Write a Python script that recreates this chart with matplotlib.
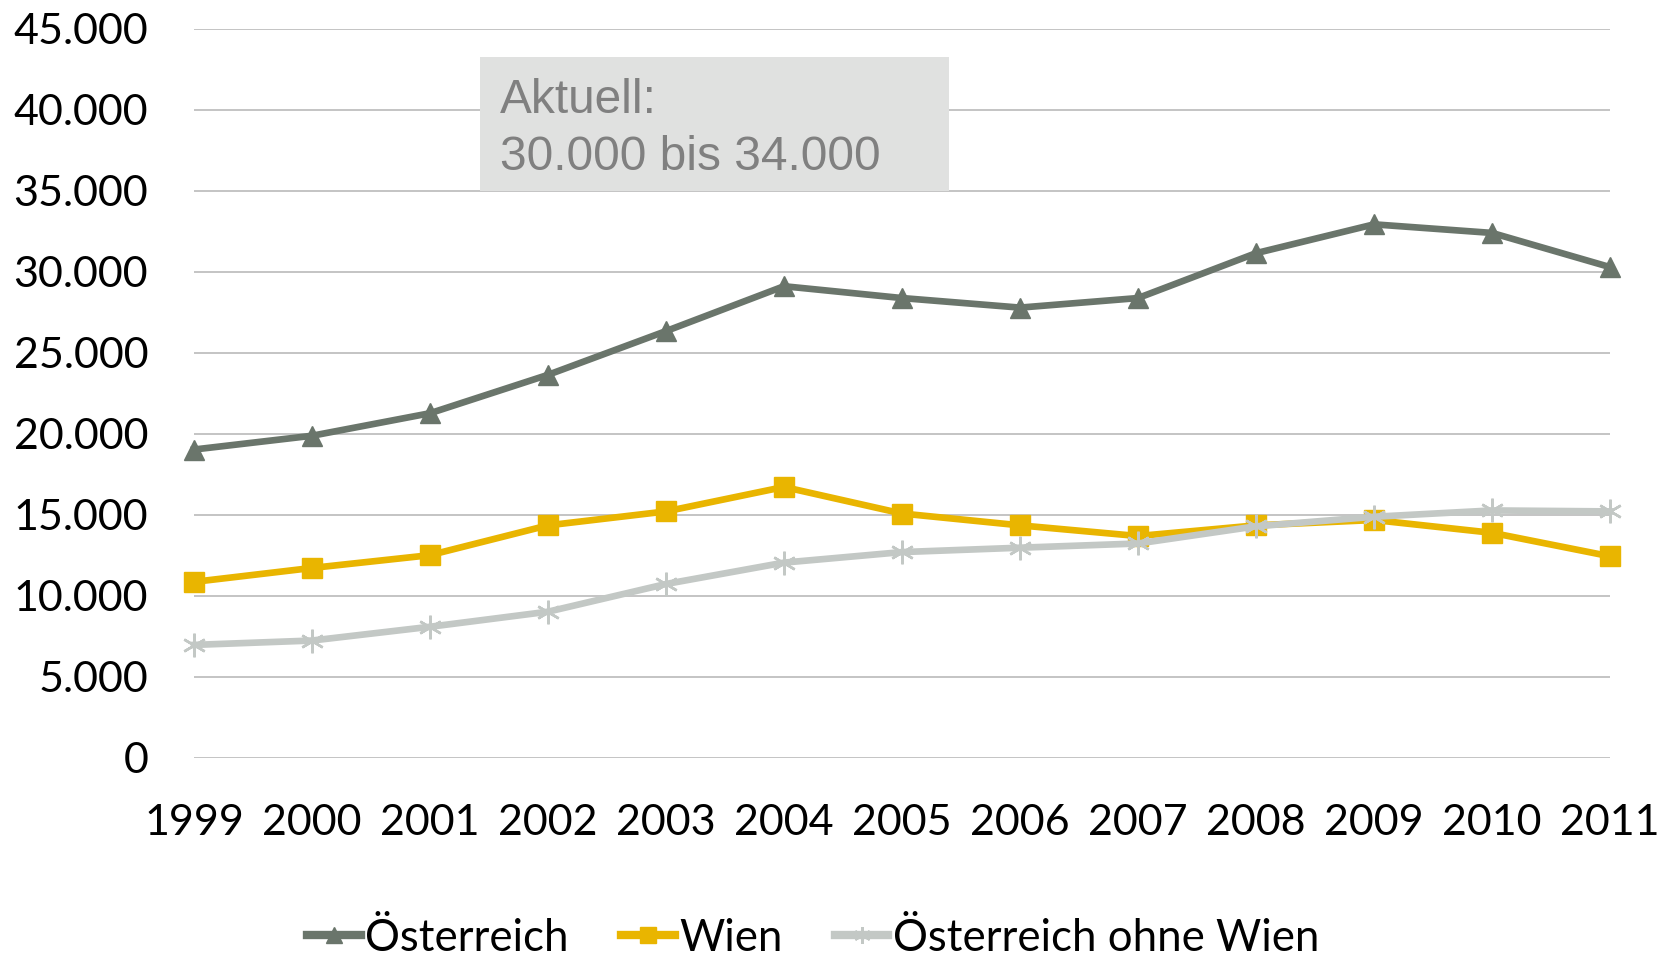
import numpy as np
import matplotlib.pyplot as plt
from matplotlib.patches import Rectangle
from matplotlib.ticker import FuncFormatter

# Daten
jahre = [1999, 2000, 2001, 2002, 2003, 2004, 2005, 2006, 2007, 2008, 2009, 2010, 2011]
oesterreich = [19040, 19890, 21280, 23650, 26350, 29120, 28390, 27800, 28390, 31160, 32940, 32410, 30300]
wien = [10870, 11730, 12520, 14360, 15220, 16730, 15090, 14360, 13700, 14360, 14690, 13900, 12450]
ohne_wien = [6980, 7250, 8100, 9030, 10740, 12060, 12710, 12980, 13240, 14300, 14890, 15280, 15220]

plt.rcParams['font.family'] = ['Lato', 'DejaVu Sans']

fig = plt.figure(figsize=(16.75, 9.59), dpi=100)
ax = fig.add_axes([0.1158, 0.2096, 0.8454, 0.7602])

ax.plot(jahre, oesterreich, color='#6A756B', lw=4.8, marker='^', ms=15,
        label='Österreich', clip_on=False, zorder=3)
ax.plot(jahre, wien, color='#E9B500', lw=4.8, marker='s', ms=14,
        label='Wien', clip_on=False, zorder=4)
ax.plot(jahre, ohne_wien, color='#C3C8C5', lw=4.8, marker=(6, 2, 0), ms=17,
        mew=1.8, mec='#C3C8C5', label='Österreich ohne Wien', clip_on=False, zorder=5)

ax.set_xlim(1999, 2011)
ax.set_ylim(0, 45000)
ax.set_yticks(np.arange(0, 45001, 5000))
ax.set_xticks(jahre)
ax.yaxis.set_major_formatter(FuncFormatter(lambda v, p: f'{int(v):,}'.replace(',', '.')))
ax.grid(axis='y', color='#BFBFBF', lw=1.3)
ax.set_axisbelow(True)
for s in ax.spines.values():
    s.set_visible(False)
ax.tick_params(length=0, labelsize=31)
ax.tick_params(axis='y', pad=33)
ax.tick_params(axis='x', pad=33)

# Hinweisbox
ax.add_patch(Rectangle((2001.424, 34970), 3.974, 8326, fc='#E0E1E0', ec='none',
                       zorder=2, clip_on=False))
ax.text(2001.59, 39800, 'Aktuell:', fontsize=34.4, color='#808080',
        family='Liberation Sans', va='baseline', ha='left', zorder=6)
ax.text(2001.59, 36265, '30.000 bis 34.000', fontsize=34.4, color='#808080',
        family='Liberation Sans', va='baseline', ha='left', zorder=6)

leg = fig.legend(loc='lower center', bbox_to_anchor=(0.4855, -0.018), ncol=3, frameon=False,
                 fontsize=31.5, handlelength=1.22, handletextpad=0.1, columnspacing=1.2,
                 borderaxespad=0)
for h in leg.legend_handles:
    h.set_linewidth(6)
    h.set_markersize(12)

fig.savefig('out.png', dpi=100)
